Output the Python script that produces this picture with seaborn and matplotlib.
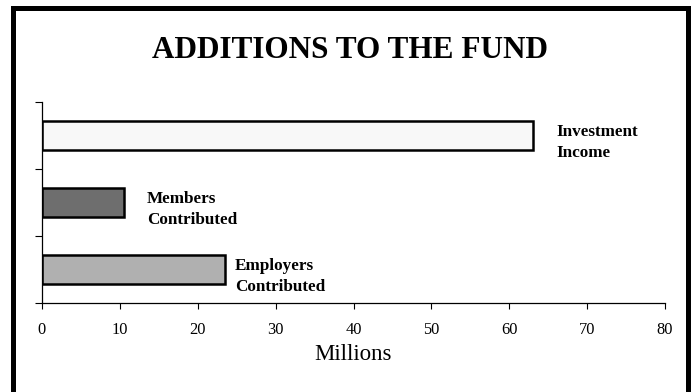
import matplotlib
matplotlib.use("Agg")
import matplotlib.pyplot as plt
import seaborn as sns
import pandas as pd
from matplotlib.patches import Rectangle
from matplotlib.transforms import offset_copy

categories = ["Investment\nIncome", "Members\nContributed", "Employers\nContributed"]
values = [63.0, 10.5, 23.5]
colors = ["#f8f8f8", "#6e6e6e", "#b0b0b0"]
x_ticks = [0, 10, 20, 30, 40, 50, 60, 70, 80]
label_offsets_px = [24, 23, 10]

sns.set_theme(style="white")
plt.rcParams["font.family"] = ["Liberation Serif", "DejaVu Serif"]

df = pd.DataFrame({"category": categories, "value": values})

fig = plt.figure(figsize=(6.94, 3.92), dpi=100)
ax = fig.add_axes([42/694, 1-303/392, 623/694, 201/392])

sns.barplot(data=df, x="value", y="category", hue="category", palette=colors,
            order=categories, hue_order=categories, width=0.42,
            edgecolor="black", linewidth=1.8, legend=False, ax=ax, saturation=1)

ax.set_xlim(0, 80)
ax.set_ylim(2.5, -0.5)
ax.set_xticks(x_ticks)
ax.set_xticklabels([str(t) for t in x_ticks], fontsize=11.8)
ax.set_yticks([-0.5, 0.5, 1.5, 2.5])
ax.set_yticklabels([])
ax.set_yticks([0, 1, 2], minor=True)
ax.tick_params(axis="y", which="major", direction="out", length=5, width=0.8, color="black", left=True)
ax.tick_params(axis="y", which="minor", direction="in", length=4, width=0.8, color="black", left=True)
ax.tick_params(axis="x", which="major", direction="out", length=4.5, width=0.8, color="black",
               bottom=True, pad=9.5, labelcolor="black")
ax.set_ylabel("")
ax.set_xlabel("Millions", fontsize=16.5, color="black", labelpad=4)
for s in ["top", "right"]:
    ax.spines[s].set_visible(False)
for s in ["left", "bottom"]:
    ax.spines[s].set_color("black")
    ax.spines[s].set_linewidth(0.9)

for i, (cat, v) in enumerate(zip(categories, values)):
    tr = offset_copy(ax.transData, fig=fig, x=label_offsets_px[i] * 72 / 100, y=-5, units="points")
    ax.text(v, i, cat, transform=tr, ha="left", va="center", fontsize=12.3,
            fontweight="bold", color="black", linespacing=1.4)

fig.text(350/694, 1-50/392, "ADDITIONS TO THE FUND", ha="center", va="center",
         fontsize=22.5, fontweight="bold", color="black")

frame = Rectangle((12.5/694, -0.1), (688-12.5)/694, 1.1 - 8.5/392, transform=fig.transFigure,
                  fill=False, edgecolor="black", linewidth=3.6, zorder=10)
fig.patches.append(frame)

fig.savefig("out.png", dpi=100)
